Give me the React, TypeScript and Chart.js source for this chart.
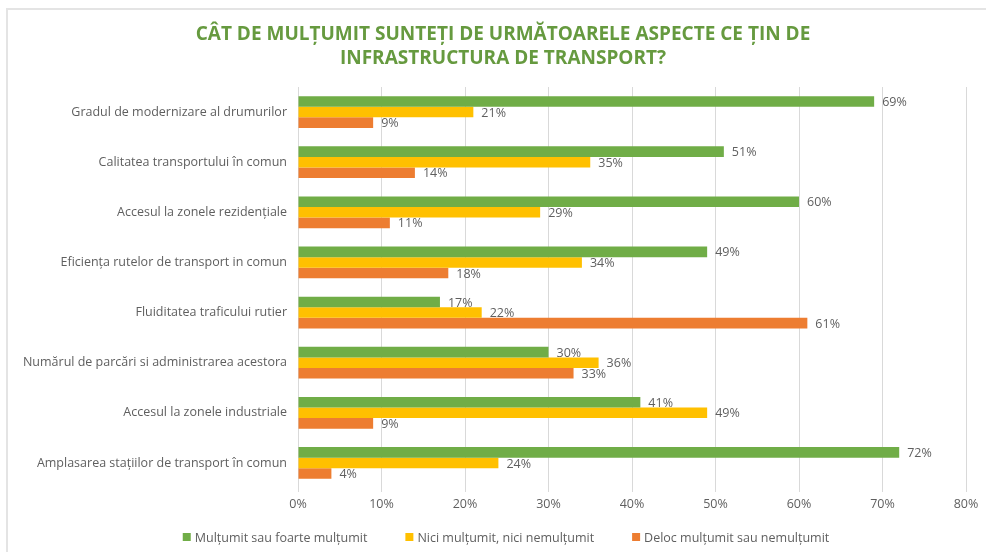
import React, { useEffect, useRef } from "react";
import { Chart, registerables } from "chart.js";

Chart.register(...registerables);

const categories = [
  "Gradul de modernizare al drumurilor",
  "Calitatea transportului în comun",
  "Accesul la zonele rezidențiale",
  "Eficiența rutelor de transport in comun",
  "Fluiditatea traficului rutier",
  "Numărul de parcări si administrarea acestora",
  "Accesul la zonele industriale",
  "Amplasarea stațiilor de transport în comun",
];

const seriesNames = [
  "Mulțumit sau foarte mulțumit",
  "Nici mulțumit, nici nemulțumit",
  "Deloc mulțumit sau nemulțumit",
];

const satisfied = [69, 51, 60, 49, 17, 30, 41, 72];
const neutral = [21, 35, 29, 34, 22, 36, 49, 24];
const dissatisfied = [9, 14, 11, 18, 61, 33, 9, 4];

const seriesColors = ["#70AD47", "#FFC000", "#ED7D31"];

const titleLines = [
  "CÂT DE MULȚUMIT SUNTEȚI DE URMĂTOARELE ASPECTE CE ȚIN DE",
  "INFRASTRUCTURA DE TRANSPORT?",
];

const FONT = "'Open Sans', 'Noto Sans', sans-serif";
const TEXT = "#5f5f5f";
const FS = 12.5;

const valueLabels = {
  id: "valueLabels",
  afterDatasetsDraw(chart: any) {
    const ctx = chart.ctx;
    ctx.save();
    ctx.font = `${FS}px ${FONT}`;
    ctx.fillStyle = TEXT;
    ctx.textBaseline = "middle";
    ctx.textAlign = "left";
    chart.data.datasets.forEach((ds: any, i: number) => {
      const meta = chart.getDatasetMeta(i);
      meta.data.forEach((bar: any, j: number) => {
        ctx.fillText(ds.data[j] + "%", bar.x + 8, bar.y + 1);
      });
    });
    ctx.restore();
  },
};

const titleDraw = {
  id: "titleDraw",
  afterDraw(chart: any) {
    const ctx = chart.ctx;
    ctx.save();
    ctx.font = `bold 19px ${FONT}`;
    ctx.fillStyle = "#669a3f";
    ctx.textBaseline = "middle";
    ctx.textAlign = "center";
    titleLines.forEach((line, i) => ctx.fillText(line, 503, 35 + i * 24));
    ctx.restore();
  },
};

const bottomLegend = {
  id: "bottomLegend",
  afterDraw(chart: any) {
    const ctx = chart.ctx;
    ctx.save();
    ctx.font = `${FS}px ${FONT}`;
    ctx.textBaseline = "middle";
    ctx.textAlign = "left";
    const box = 8;
    const gapBox = 4;
    const gapItem = 38;
    const widths = chart.data.datasets.map((ds: any) => box + gapBox + ctx.measureText(ds.label).width);
    const total = widths.reduce((a: number, b: number) => a + b, 0) + gapItem * (widths.length - 1);
    const cx = 506;
    const cy = 537;
    let x = cx - total / 2;
    chart.data.datasets.forEach((ds: any, i: number) => {
      ctx.fillStyle = ds.backgroundColor;
      ctx.fillRect(x, cy - box / 2, box, box);
      ctx.fillStyle = TEXT;
      ctx.fillText(ds.label, x + box + gapBox, cy + 1);
      x += widths[i] + gapItem;
    });
    ctx.restore();
  },
};

export default function App() {
  const ref = useRef<HTMLCanvasElement>(null);
  useEffect(() => {
    if (!ref.current) return;
    const chart = new Chart(ref.current, {
      type: "bar",
      data: {
        labels: categories,
        datasets: [
          { label: seriesNames[0], data: satisfied, backgroundColor: seriesColors[0] },
          { label: seriesNames[1], data: neutral, backgroundColor: seriesColors[1] },
          { label: seriesNames[2], data: dissatisfied, backgroundColor: seriesColors[2] },
        ],
      },
      options: {
        indexAxis: "y",
        animation: false,
        responsive: false,
        maintainAspectRatio: false,
        datasets: {
          bar: { categoryPercentage: 0.635, barPercentage: 1 },
        },
        layout: { padding: { left: 0, right: 20, top: 87, bottom: 35 } },
        scales: {
          x: {
            min: 0,
            max: 80,
            ticks: {
              stepSize: 10,
              callback: (v: any) => v + "%",
              color: TEXT,
              font: { family: FONT, size: FS },
              padding: 5,
            },
            grid: { color: "#d9d9d9", tickLength: 4, drawTicks: true },
            border: { display: false },
          },
          y: {
            ticks: {
              color: TEXT,
              font: { family: FONT, size: FS },
              padding: 3,
              autoSkip: false,
            },
            grid: { display: false },
            border: { display: false },
            afterFit: (scale: any) => {
              scale.width = 298;
            },
          },
        },
        plugins: {
          title: { display: false },
          legend: { display: false },
          tooltip: { enabled: false },
        },
      },
      plugins: [valueLabels, titleDraw, bottomLegend],
    });
    return () => chart.destroy();
  }, []);
  return (
    <div style={{ position: "absolute", left: 0, top: 0, width: 986, height: 552, background: "#fff", overflow: "hidden" }}>
      <div style={{ position: "absolute", left: 6, top: 8, width: 990, height: 560, borderLeft: "2px solid #e4e4e4", borderTop: "2px solid #e4e4e4" }} />
      <canvas ref={ref} width={986} height={552} style={{ position: "absolute", left: 0, top: 0 }} />
    </div>
  );
}
